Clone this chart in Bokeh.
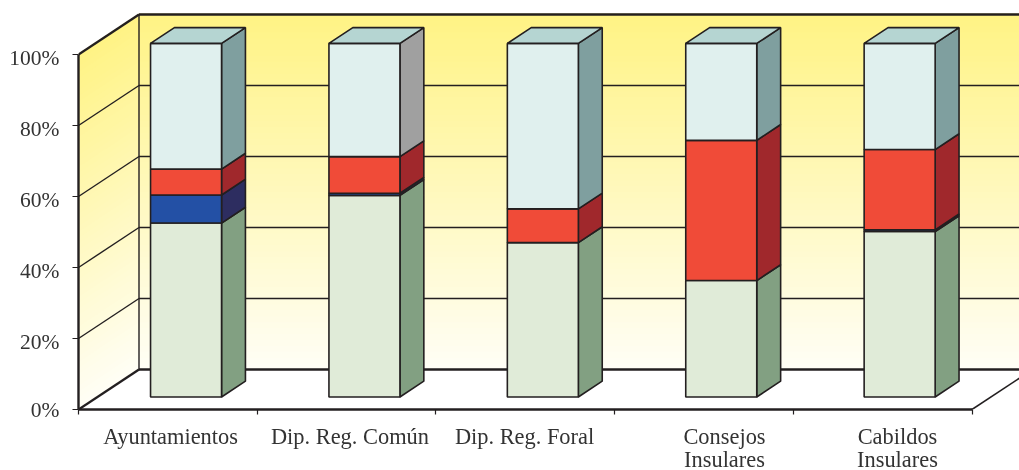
from bokeh.embed import file_html
from bokeh.models import FixedTicker, LinearAxis
from bokeh.plotting import figure
from bokeh.resources import INLINE

# ---- data (percent, stacked from the bottom) ----
categories = ["Ayuntamientos", "Dip. Reg. Común", "Dip. Reg. Foral", "Consejos\nInsulares", "Cabildos\nInsulares"]
green_values = [49.0, 56.8, 43.5, 32.8, 46.6]
blue_values = [7.9, 0.6, 0.0, 0.0, 0.5]
red_values = [7.3, 10.3, 9.5, 39.5, 22.6]
light_values = [35.4, 31.9, 46.6, 27.3, 29.9]
y_ticks = [0, 20, 40, 60, 80, 100]
label_positions = [0.515, 1.519, 2.496, 3.615, 4.583]
Y_LABEL_SHIFT = 0.9

# ---- layout and style ----
W, H = 1019, 470
LEFT, BOTTOM = 78, 61
PX_CAT, PX_PCT = 178.7, 3.55
WALL_DX, WALL_DY = 60.5 / PX_CAT, 40.0 / PX_PCT
BAR_D0, BAR_D1 = 12.5 / 40.0, 28.3 / 40.0
BAR_HALF = 71.0 / PX_CAT / 2
BAR_STEP = 178.4 / PX_CAT
BAR_FIRST = 0.496
INK = "#231f20"
SERIES = [
    (green_values, "#e0ebd8", "#82a082", "#b5d5d2"),
    (blue_values, "#2350a5", "#2d2d60", "#b5d5d2"),
    (red_values, "#f04b38", "#a0282c", "#b5d5d2"),
    (light_values, "#e0f0ee", "#7f9f9f", "#b5d5d2"),
]
LIGHT_SIDE_BY_BAR = ["#7f9f9f", "#a0a0a0", "#7f9f9f", "#7f9f9f", "#7f9f9f"]
SERIF = "Liberation Serif"
BAR_LW = 1.6
GRID_LW = 1.4
HEAVY_LW = 2.4


def proj(x, y, d):
    return x + d * WALL_DX, y + d * WALL_DY


def wall_color(t):
    top, bot = (255, 243, 132), (255, 254, 246)
    return "#%02x%02x%02x" % tuple(round(b + (a - b) * t) for a, b in zip(top, bot))


p = figure(
    width=W, height=H, output_backend="svg", toolbar_location=None,
    x_range=(0, (W - LEFT) / PX_CAT), y_range=(0, (H - BOTTOM) / PX_PCT),
    frame_width=W - LEFT, frame_height=H - BOTTOM,
    min_border_left=LEFT, min_border_bottom=0, min_border_top=0, min_border_right=0,
    x_axis_location="below", y_axis_location="left",
    styles={"position": "fixed", "left": "0px", "top": "0px"},
)
p.outline_line_color = None
p.grid.visible = False
p.background_fill_color = "white"

# axes
xa = p.xaxis[0]
xa.ticker = FixedTicker(ticks=label_positions, minor_ticks=list(range(len(categories) + 1)))
xa.major_label_overrides = dict(zip(label_positions, categories))
xa.major_tick_line_color = None
xa.major_tick_out = 0
xa.major_tick_in = 0
xa.minor_tick_out = 5
xa.minor_tick_in = 0
xa.minor_tick_line_color = INK
xa.minor_tick_line_width = 1.2
xa.axis_line_color = INK
xa.axis_line_width = HEAVY_LW
xa.bounds = (0, len(categories))
xa.major_label_standoff = 9
xa.major_label_text_font = SERIF
xa.major_label_text_font_size = "22.4px"
xa.major_label_text_color = "#333333"
xa.major_label_text_line_height = 0.94

ya = p.yaxis[0]
ya.ticker = FixedTicker(ticks=y_ticks)
ya.major_label_text_font_size = "1px"
ya.major_label_text_color = None
ya.bounds = (0, 100)
ya.major_tick_out = 6
ya.major_tick_in = 0
ya.minor_tick_line_color = None
ya.major_tick_line_color = INK
ya.major_tick_line_width = 1.2
ya.axis_line_color = INK
ya.axis_line_width = HEAVY_LW
ya.major_label_standoff = 0

# labels of the value axis, sitting a little under their ticks as in the reference
# (the 0% label cannot go below the end of the range, so it stays on its tick)
shifted = [max(t - Y_LABEL_SHIFT, 0) for t in y_ticks]
yl = LinearAxis(
    ticker=FixedTicker(ticks=shifted),
    major_label_overrides={s: "%d%%" % t for s, t in zip(shifted, y_ticks)},
    axis_line_color=None, major_tick_line_color=None, minor_tick_line_color=None,
    major_tick_out=0, major_tick_in=0, minor_tick_out=0, minor_tick_in=0,
    major_label_standoff=13,
    major_label_text_font=SERIF, major_label_text_font_size="21.5px",
    major_label_text_color="#333333",
)
p.add_layout(yl, "left")

# gradient walls
x_end = (W - LEFT) / PX_CAT + 1
N = 60
wx, wy, wc = [], [], []
sx, sy = [], []
for i in range(N):
    a, b = 100 * i / N, 100 * (i + 1) / N + 0.3
    wc.append(wall_color((i + 0.5) / N))
    x0, y0 = proj(0, a, 1)
    x1, y1 = proj(x_end, b, 1)
    wx.append([x0, x1, x1, x0])
    wy.append([y0, y0, y1, y1])
    f0 = proj(0, a, 0)
    f1 = proj(0, b, 0)
    b0 = proj(0, a, 1)
    b1 = proj(0, b, 1)
    sx.append([f0[0], b0[0], b1[0], f1[0]])
    sy.append([f0[1], b0[1], b1[1], f1[1]])
p.patches(wx, wy, fill_color=wc, line_color=None)
p.patches(sx, sy, fill_color=wc, line_color=None)

# grid lines on the two walls
for t in y_ticks:
    x0, y0 = proj(0, t, 0)
    x1, y1 = proj(0, t, 1)
    heavy = t in (0, 100)
    p.line([x0, x1], [y0, y1], line_color=INK, line_width=HEAVY_LW if heavy else GRID_LW)
    p.line([x1, x_end], [y1, y1], line_color=INK, line_width=HEAVY_LW if heavy else GRID_LW)
bx0, by0 = proj(0, 0, 1)
bx1, by1 = proj(0, 100, 1)
p.line([bx0, bx1], [by0, by1], line_color=INK, line_width=GRID_LW)
n = len(categories)
ex0, ey0 = proj(n, 0, 0)
ex1, ey1 = proj(n, 0, 1)
p.line([ex0, ex1], [ey0, ey1], line_color=INK, line_width=1.6)

# bars
for i in range(n):
    c = BAR_FIRST + i * BAR_STEP
    xl, xr = c - BAR_HALF, c + BAR_HALF
    base = 0.0
    for k, (vals, front, side, top) in enumerate(SERIES):
        v = vals[i]
        if v <= 0:
            continue
        t = base + v
        side_col = LIGHT_SIDE_BY_BAR[i] if k == 3 else side
        pts = [proj(xr, base, BAR_D0), proj(xr, base, BAR_D1), proj(xr, t, BAR_D1), proj(xr, t, BAR_D0)]
        p.patch([q[0] for q in pts], [q[1] for q in pts], fill_color=side_col, line_color=INK, line_width=BAR_LW)
        pts = [proj(xl, base, BAR_D0), proj(xr, base, BAR_D0), proj(xr, t, BAR_D0), proj(xl, t, BAR_D0)]
        p.patch([q[0] for q in pts], [q[1] for q in pts], fill_color=front, line_color=INK, line_width=BAR_LW)
        base = t
    pts = [proj(xl, base, BAR_D0), proj(xr, base, BAR_D0), proj(xr, base, BAR_D1), proj(xl, base, BAR_D1)]
    p.patch([q[0] for q in pts], [q[1] for q in pts], fill_color=SERIES[3][3], line_color=INK, line_width=BAR_LW)

open("out.html", "w").write(file_html(p, INLINE))
